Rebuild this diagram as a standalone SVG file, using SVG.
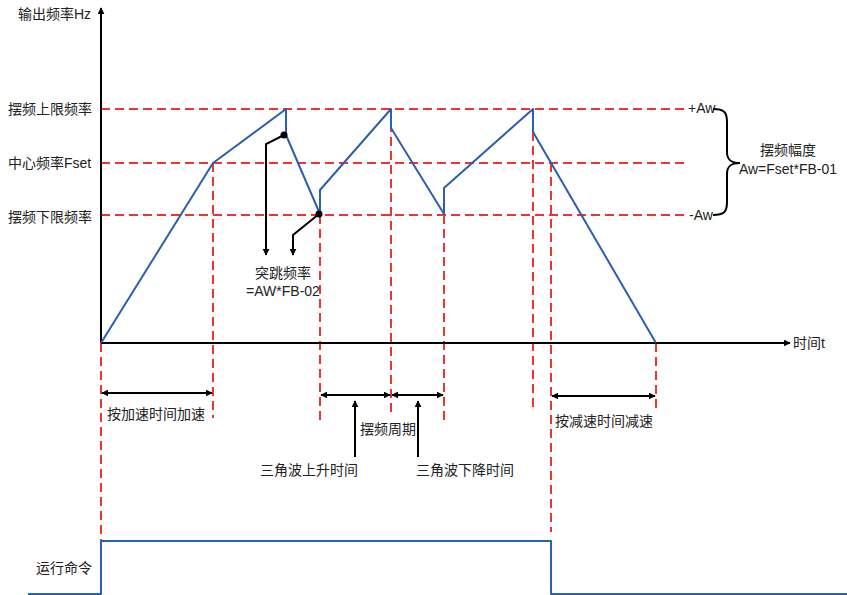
<svg xmlns="http://www.w3.org/2000/svg" width="847" height="595" viewBox="0 0 847 595">
<defs>
<marker id="ah" viewBox="0 0 10 10" refX="9" refY="5" markerWidth="7" markerHeight="7" markerUnits="userSpaceOnUse" orient="auto-start-reverse"><path d="M0,0 L10,5 L0,10 z" fill="#000"/></marker>
<style>
.t{font-family:"Liberation Serif","Noto Sans CJK SC",serif;font-size:14px;fill:#222}
.s{font-family:"Liberation Sans","Noto Sans CJK SC",sans-serif;font-size:14px;fill:#222}
.d{stroke:#ee3333;stroke-width:2;stroke-dasharray:9 5;fill:none}
.b{stroke:#2c5fad;stroke-width:2;fill:none;stroke-linejoin:round}
.k{stroke:#000;stroke-width:2;fill:none}
.a{stroke:#000;stroke-width:2;fill:none;marker-end:url(#ah)}
.a2{stroke:#000;stroke-width:2;fill:none;marker-start:url(#ah);marker-end:url(#ah)}
</style>
</defs>
<rect width="847" height="595" fill="#fff"/>
<g id="guides">
<path class="d" d="M101,109H688 M101,163H688 M101,215H688"/>
<path class="d" d="M101,343V540 M213,163V418 M320,215V422 M391,109V415 M444,215V420 M533,132V408 M551,163V532 M656,343V412"/>
</g>
<g id="axes">
<path class="a" d="M101,343V8"/>
<path class="a" d="M101,343H790"/>
<text class="s" x="18" y="19">输出频率Hz</text>
<text class="t" x="793" y="348">时间<tspan class="s">t</tspan></text>
</g>
<g id="labels-left">
<text class="t" x="8" y="114">摆频上限频率</text>
<text class="s" x="8" y="168">中心频率Fset</text>
<text class="t" x="8" y="222">摆频下限频率</text>
</g>
<g id="waveform">
<path class="b" d="M101,343 L213,163 L286,109 L286,135 L320,214 L320,190 L391,109 L391,128 L444,214 L444,188 L533,109 L533,132 L656,343"/>
</g>
<g id="amplitude">
<text class="s" x="688" y="113">+Aw</text>
<text class="s" x="689" y="220">-Aw</text>
<path class="k" d="M713,109 C724,109 727,112 727,122 L727,152 C727,160 731,163 740,163 C731,163 727,166 727,174 L727,202 C727,212 724,215 713,215"/>
<text class="t" x="788" y="155" text-anchor="middle">摆频幅度</text>
<text class="s" x="788" y="174" text-anchor="middle">Aw=Fset*FB-01</text>
</g>
<g id="jump">
<circle cx="284" cy="135" r="3.5" fill="#000"/>
<circle cx="319" cy="214" r="3.5" fill="#000"/>
<path class="a" d="M284,135 L266,144 L266,255"/>
<path class="a" d="M319,214 L293,235 L293,255"/>
<text class="t" x="283" y="278" text-anchor="middle">突跳频率</text>
<text class="s" x="283" y="296" text-anchor="middle">=AW*FB-02</text>
</g>
<g id="connectors">
<path class="a2" d="M102,393H212"/>
<path class="a2" d="M321,395H390"/>
<path class="a2" d="M392,395H443"/>
<path class="a2" d="M552,396H655"/>
<path class="a" d="M355,457V401"/>
<path class="a" d="M418,457V401"/>
</g>
<g id="time-labels">
<text class="t" x="107" y="419">按加速时间加速</text>
<text class="t" x="388" y="434" text-anchor="middle">摆频周期</text>
<text class="t" x="309" y="475" text-anchor="middle">三角波上升时间</text>
<text class="t" x="465" y="475" text-anchor="middle">三角波下降时间</text>
<text class="t" x="555" y="426">按减速时间减速</text>
</g>
<g id="run-command">
<path class="b" d="M28,594 H101 V541 H551 V594 H847"/>
<text class="t" x="36" y="573">运行命令</text>
</g>
</svg>
